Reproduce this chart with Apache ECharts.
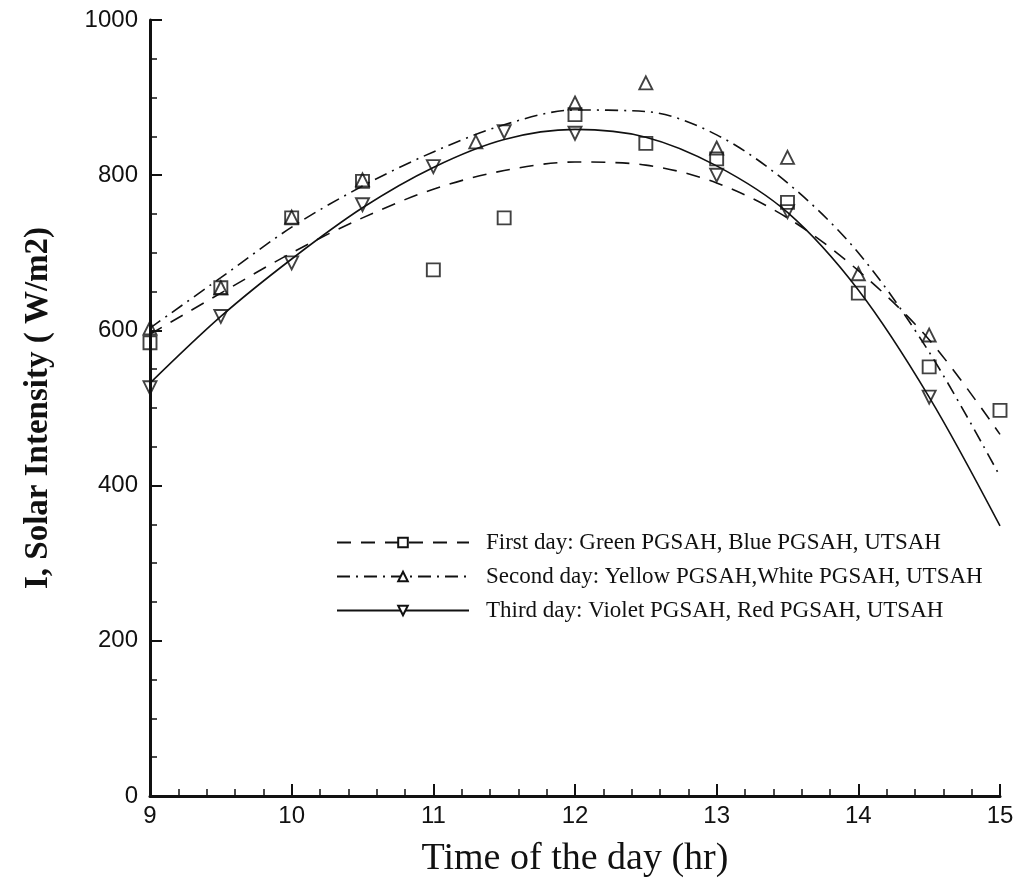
<!DOCTYPE html>
<html>
<head>
<meta charset="utf-8">
<script src="https://cdn.jsdelivr.net/npm/echarts@6/dist/echarts.min.js"></script>
<style>
html,body{margin:0;padding:0;background:#fff;}
#chart{width:1020px;height:892px;}
</style>
</head>
<body>
<div id="chart"></div>
<script>
// Fitted curves (read at half-hour steps)
const curveHours = [9, 9.5, 10, 10.5, 11, 11.5, 12, 12.5, 13, 13.5, 14, 14.5, 15];
const firstDayCurve  = [595, 648, 700, 745, 782, 806, 817, 813, 790, 745, 677, 588, 466];
const secondDayCurve = [603, 668, 733, 786, 830, 865, 884, 882, 852, 790, 700, 572, 412];
const thirdDayCurve  = [532, 618, 692, 758, 810, 846, 859, 849, 812, 752, 652, 514, 348];

// Measured points
const firstDayHours  = [9, 9.5, 10, 10.5, 11, 11.5, 12, 12.5, 13, 13.5, 14, 14.5, 15];
const firstDayValues = [584, 655, 745, 792, 678, 745, 878, 841, 821, 765, 648, 553, 497];
const secondDayHours  = [9, 9.5, 10, 10.5, 11.3, 12, 12.5, 13, 13.5, 14, 14.5];
const secondDayValues = [603, 655, 746, 794, 843, 893, 919, 835, 823, 673, 594];
const thirdDayHours  = [9, 9.5, 10, 10.5, 11, 11.5, 12, 13, 13.5, 14.5];
const thirdDayValues = [526, 618, 687, 762, 811, 856, 854, 800, 753, 514];

const seriesNames = [
  'First day: Green PGSAH, Blue PGSAH, UTSAH',
  'Second day: Yellow PGSAH,White PGSAH, UTSAH',
  'Third day: Violet PGSAH, Red PGSAH, UTSAH'
];
const xTicks = [9, 10, 11, 12, 13, 14, 15];
const yTicks = [0, 200, 400, 600, 800, 1000];

const zip = (xs, ys) => xs.map((x, i) => [x, ys[i]]);
const INK = '#111';

function curve(name, ys, type, symbol, rotate) {
  return {
    name: name, type: 'line', data: zip(curveHours, ys),
    smooth: 0.33, symbol: symbol, symbolRotate: rotate, showSymbol: false,
    lineStyle: {color: INK, width: 1.6, type: type},
    itemStyle: {color: '#fff', borderColor: INK, borderWidth: 1.5},
    emphasis: {disabled: true}, z: 2
  };
}
function points(name, xs, ys, symbol, rotate) {
  return {
    name: name, type: 'scatter', data: zip(xs, ys),
    symbol: symbol, symbolRotate: rotate, symbolSize: 13,
    itemStyle: {color: 'rgba(255,255,255,0)', borderColor: INK, borderWidth: 1.9},
    emphasis: {disabled: true}, z: 3
  };
}

const chart = echarts.init(document.getElementById('chart'));
chart.setOption({
  animation: false,
  backgroundColor: '#fff',
  grid: {left: 150, right: 20, top: 20, bottom: 96},
  legend: {
    data: seriesNames,
    orient: 'vertical', left: 331, top: 526,
    itemWidth: 132, itemHeight: 12, itemGap: 11,
    selectedMode: false,
    textStyle: {fontFamily: 'Liberation Serif', fontSize: 23, color: INK, padding: [0, 0, 0, 12]}
  },
  xAxis: {
    type: 'value', min: 9, max: 15, interval: 1,
    name: 'Time of the day (hr)', nameLocation: 'middle', nameGap: 44,
    nameTextStyle: {fontFamily: 'Liberation Serif', fontSize: 38, color: INK},
    axisLine: {show: true, onZero: false, lineStyle: {color: INK, width: 3}},
    axisTick: {show: true, inside: true, length: 12, lineStyle: {color: INK, width: 2}},
    minorTick: {show: true, splitNumber: 5, length: 7, lineStyle: {color: INK, width: 1.5}},
    axisLabel: {fontFamily: 'Liberation Sans', fontSize: 24, color: INK, margin: 8,
      formatter: v => xTicks.includes(v) ? String(v) : ''},
    splitLine: {show: false}
  },
  yAxis: {
    type: 'value', min: 0, max: 1000, interval: 200,
    name: 'I, Solar Intensity ( W/m2)', nameLocation: 'middle', nameGap: 95,
    nameTextStyle: {fontFamily: 'Liberation Serif', fontSize: 33, fontWeight: 'bold', color: INK},
    axisLine: {show: true, lineStyle: {color: INK, width: 3}},
    axisTick: {show: true, inside: true, length: 12, lineStyle: {color: INK, width: 2}},
    minorTick: {show: true, splitNumber: 4, length: 7, lineStyle: {color: INK, width: 1.5}},
    axisLabel: {fontFamily: 'Liberation Sans', fontSize: 24, color: INK, margin: 12,
      formatter: v => yTicks.includes(v) ? String(v) : ''},
    splitLine: {show: false}
  },
  series: [
    curve(seriesNames[0], firstDayCurve, [14, 10], 'rect', 0),
    curve(seriesNames[1], secondDayCurve, [13, 6, 2, 6], 'triangle', 0),
    curve(seriesNames[2], thirdDayCurve, 'solid', 'triangle', 180),
    points('first-pts', firstDayHours, firstDayValues, 'rect', 0),
    points('second-pts', secondDayHours, secondDayValues, 'triangle', 0),
    points('third-pts', thirdDayHours, thirdDayValues, 'triangle', 180)
  ]
});
</script>
</body>
</html>
